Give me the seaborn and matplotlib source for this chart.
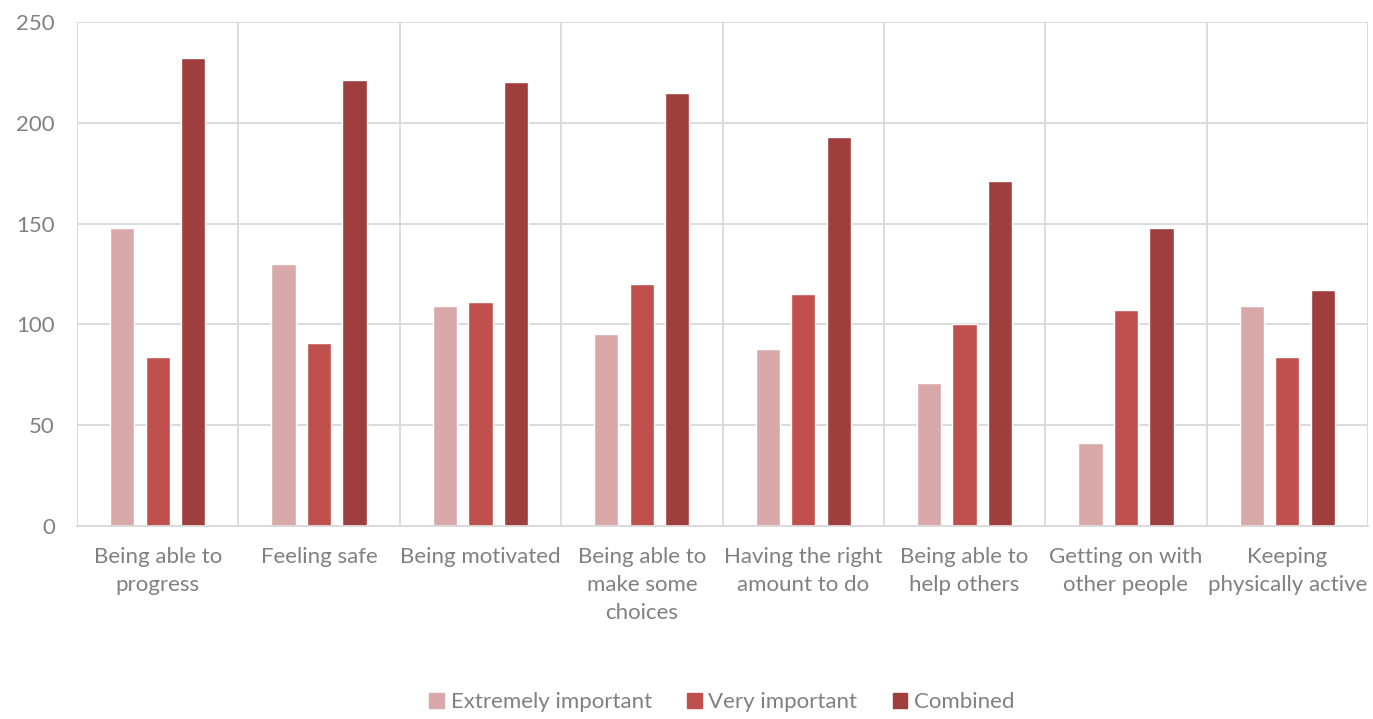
import seaborn as sns
import pandas as pd
import matplotlib
matplotlib.use("Agg")
import matplotlib.pyplot as plt
from matplotlib.ticker import FixedLocator

# данные
categories = ["Being able to\nprogress", "Feeling safe", "Being motivated",
              "Being able to\nmake some\nchoices", "Having the right\namount to do",
              "Being able to\nhelp others", "Getting on with\nother people",
              "Keeping\nphysically active"]
extremely = [148, 130, 109, 95, 88, 71, 41, 109]
very = [84, 91, 111, 120, 115, 100, 107, 84]
combined = [232, 221, 220, 215, 193, 171, 148, 117]
series = ["Extremely important", "Very important", "Combined"]
colors = ["#D9A9AA", "#C0504D", "#9E3F3E"]

rows = []
for name, vals in zip(series, [extremely, very, combined]):
    for cat, v in zip(categories, vals):
        rows.append({"cat": cat, "series": name, "value": v})
data = pd.DataFrame(rows)

sns.set_style("white")
plt.rcParams['font.family'] = ['Lato', 'DejaVu Sans']
text_col = "#808080"
grid_col = "#D9D9D9"

fig = plt.figure(figsize=(13.73, 7.19), dpi=100)
ax = fig.add_axes([77 / 1373, 1 - 526 / 719, (1368 - 77) / 1373, (526 - 22) / 719])

sns.barplot(data=data, x="cat", y="value", hue="series", palette=colors,
            width=0.66, gap=0.32, ax=ax, legend=False, saturation=1)

ax.set_xlim(-0.5, len(categories) - 0.5)
ax.set_ylim(0, 250)
ax.set_yticks(range(0, 251, 50))
ax.xaxis.set_minor_locator(FixedLocator([i - 0.5 for i in range(len(categories) + 1)]))
ax.grid(True, axis="y", which="major", color=grid_col, linewidth=1.3)
ax.grid(True, axis="x", which="minor", color=grid_col, linewidth=1.3)
ax.grid(False, axis="x", which="major")
ax.set_axisbelow(True)
for s in ["top", "right", "left"]:
    ax.spines[s].set_visible(False)
ax.spines["bottom"].set_color(grid_col)
ax.spines["bottom"].set_linewidth(1.3)
ax.tick_params(axis="both", which="both", length=0, colors=text_col, labelsize=16)
ax.tick_params(axis="y", pad=16)
ax.tick_params(axis="x", pad=15)
for lbl in ax.get_xticklabels():
    lbl.set_linespacing(1.5)
ax.set_xlabel("")
ax.set_ylabel("")

# легенда по центру области графика
handles = [plt.Rectangle((0, 0), 1, 1, color=c) for c in colors]
fig.legend(handles, series, loc="center", bbox_to_anchor=(722 / 1373, 17 / 719), ncol=3,
           frameon=False, fontsize=16, labelcolor=text_col, handlelength=0.65,
           handleheight=0.65, handletextpad=0.3, columnspacing=1.6)

fig.savefig("out.png", dpi=100)
